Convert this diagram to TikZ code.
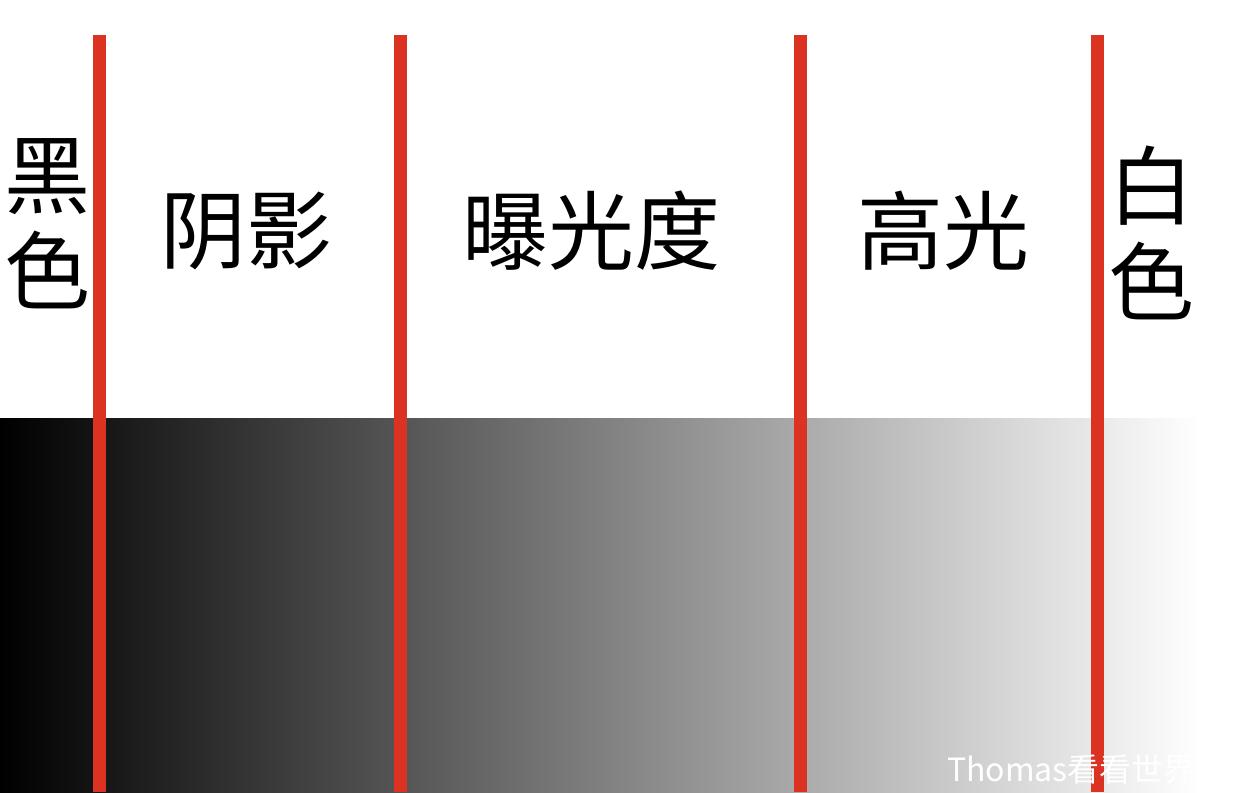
\documentclass[tikz,border=0pt]{standalone}
\usepackage{fontspec}
\newfontfamily\cjk{Noto Sans CJK SC}
\usetikzlibrary{positioning}
\definecolor{cred}{HTML}{DC3222}
\tikzset{
  lbl/.style={font=\cjk\fontsize{86}{96}\selectfont, text=black,
    inner sep=0pt, align=center},
  divider/.style={draw=cred, line width=13pt},
  wmark/.style={font=\cjk\fontsize{32}{32}\selectfont, text=white,
    inner sep=0pt},
}
\begin{document}
\begin{tikzpicture}[x=1pt, y=-1pt]
\useasboundingbox[fill=white] (0,0) rectangle (1260,792);

%% -- tone band --------------------------------------------
\shade[left color=black, right color=white] (0,418) rectangle (1200,792);

%% -- zone dividers ----------------------------------------
\foreach \x in {99,400,800,1097}
  \draw[divider] (\x,35) -- (\x,792);

%% -- zone labels ------------------------------------------
\node[lbl] (blacks) at (48,224) {黑\\色};
\node[lbl] (shadows) at (246,231) {阴影};
\node[lbl] (exposure) at (591,231) {曝光度};
\node[lbl] (highlights) at (943,231) {高光};
\node[lbl] (whites) at (1151,233) {白\\色};

%% -- watermark --------------------------------------------
\node[wmark, anchor=east] (credit) at (1196,770) {Thomas看看世界};

\end{tikzpicture}
\end{document}
